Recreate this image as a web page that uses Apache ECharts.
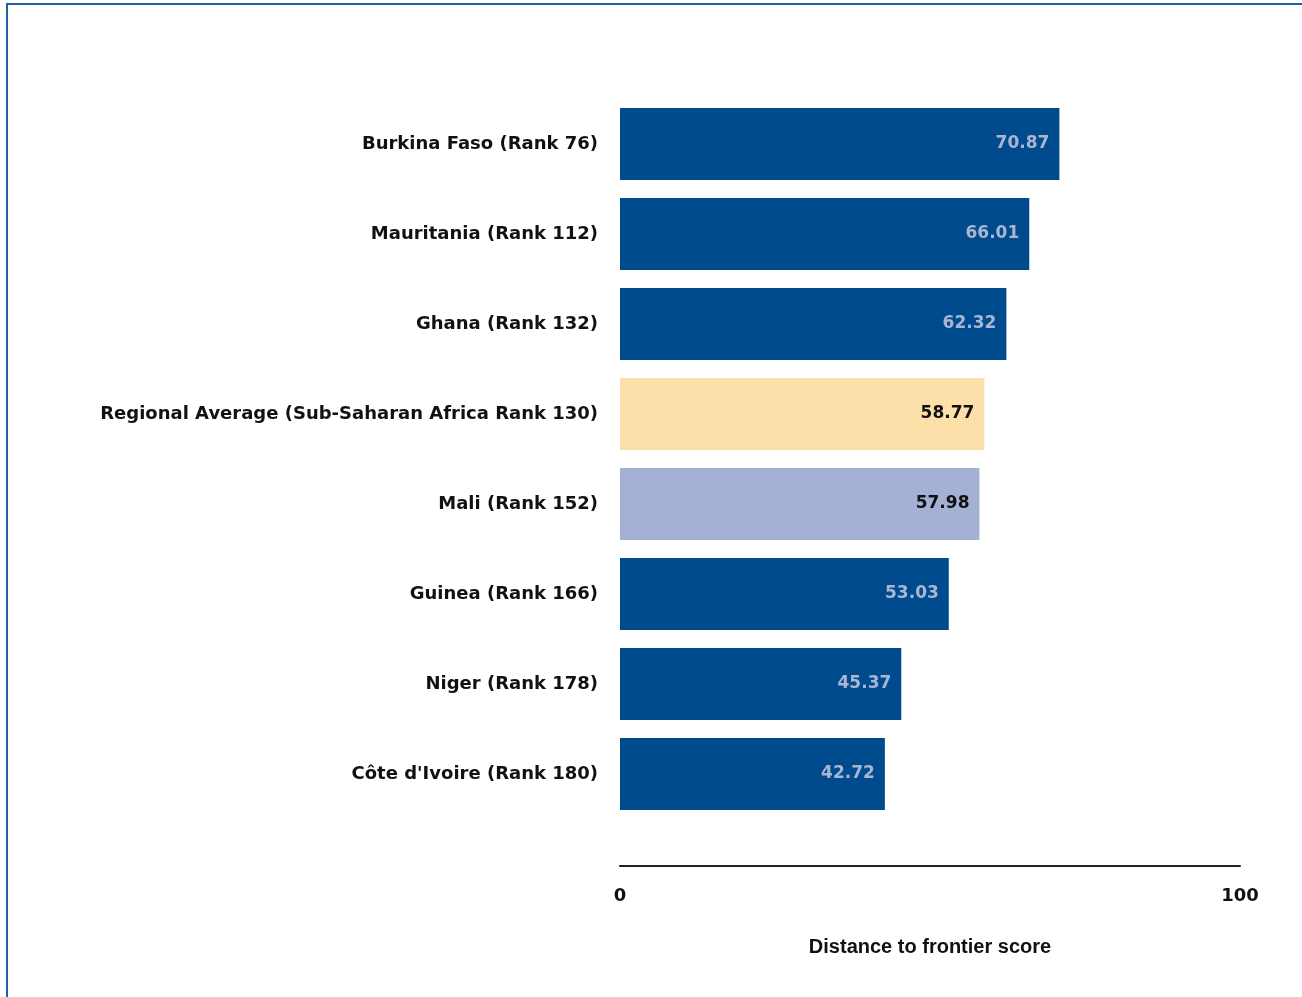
<!DOCTYPE html>
<html>
<head>
<meta charset="utf-8">
<script src="https://cdn.jsdelivr.net/npm/echarts@6/dist/echarts.min.js"></script>
<style>
html,body{margin:0;padding:0;background:#fff;}
#frame{position:absolute;left:6px;top:3px;width:1302px;height:1000px;border-left:2px solid #1f5fa8;border-top:2px solid #1f5fa8;}
#chart{position:absolute;left:0;top:0;width:1302px;height:997px;}
</style>
</head>
<body>
<div id="frame"></div>
<div id="chart"></div>
<script>
const categories = [
  "Burkina Faso (Rank 76)",
  "Mauritania (Rank 112)",
  "Ghana (Rank 132)",
  "Regional Average (Sub-Saharan Africa Rank 130)",
  "Mali (Rank 152)",
  "Guinea (Rank 166)",
  "Niger (Rank 178)",
  "Côte d'Ivoire (Rank 180)"
];
const scores = [70.87, 66.01, 62.32, 58.77, 57.98, 53.03, 45.37, 42.72];
const axisTicks = [0, 100];
const axisName = "Distance to frontier score";

const dark = '#004b8d';
const colorFor = (name) => name.startsWith('Regional') ? '#fddfa9' : (name.startsWith('Mali') ? '#a5b1d4' : dark);
const labelFor = (name) => (name.startsWith('Regional') || name.startsWith('Mali')) ? '#111' : '#a9b5d3';

const chart = echarts.init(document.getElementById('chart'));
chart.setOption({
  animation: false,
  grid: {left: 620, right: 62, top: 99, bottom: 178, containLabel: false},
  xAxis: {
    type: 'value', min: 0, max: 100, interval: 100, offset: 47,
    axisLine: {show: true, lineStyle: {color: '#222', width: 2}},
    axisTick: {show: false},
    splitLine: {show: false},
    axisLabel: {
      margin: 21, color: '#111', fontFamily: 'DejaVu Sans', fontWeight: 'bold', fontSize: 18,
      formatter: v => axisTicks.includes(v) ? String(v) : ''
    },
    name: axisName, nameLocation: 'middle', nameGap: 71,
    nameTextStyle: {color: '#111', fontFamily: 'Liberation Sans', fontWeight: 'bold', fontSize: 20}
  },
  yAxis: {
    type: 'category', data: categories, inverse: true,
    axisLine: {show: false}, axisTick: {show: false},
    axisLabel: {margin: 22, color: '#111', fontFamily: 'DejaVu Sans', fontWeight: 'bold', fontSize: 18}
  },
  series: [{
    type: 'bar', barWidth: '80%',
    data: scores.map((v, i) => ({
      value: v,
      itemStyle: {color: colorFor(categories[i])},
      label: {color: labelFor(categories[i])}
    })),
    label: {
      show: true, position: 'insideRight', distance: 10,
      fontFamily: 'DejaVu Sans', fontWeight: 'bold', fontSize: 17,
      formatter: p => p.value.toFixed(2)
    }
  }]
});
</script>
</body>
</html>
